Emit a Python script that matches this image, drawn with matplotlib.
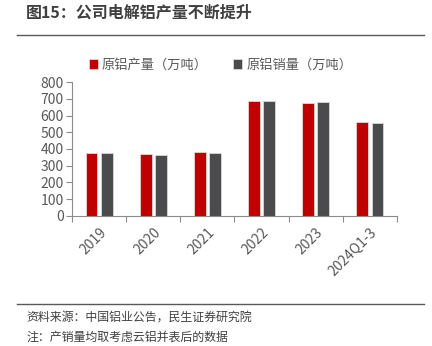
import numpy as np
import matplotlib
matplotlib.use('Agg')
import matplotlib.pyplot as plt
from matplotlib.lines import Line2D

plt.rcParams['font.family'] = ['Noto Sans CJK SC', 'DejaVu Sans']

years = ['2019', '2020', '2021', '2022', '2023', '2024Q1-3']
output = [378, 368, 384, 688, 678, 562]
sales = [375, 366, 376, 686, 680, 558]

red = '#C00000'
grey = '#4B4B4D'
axis_c = '#8C8C8C'
text_c = '#595959'

fig = plt.figure(figsize=(4.32, 3.46), dpi=100)
ax = fig.add_axes([72/432, 1-215.7/346, 325/432, 133.4/346])

x = np.arange(len(years))
w = 0.22
ax.bar(x - 0.14, output, w, color=red, edgecolor='#F2D0D0', linewidth=0.6, label='原铝产量（万吨）')
ax.bar(x + 0.14, sales, w, color=grey, edgecolor='#D9D9D9', linewidth=0.6, label='原铝销量（万吨）')

ax.set_xlim(-0.5, len(years) - 0.5)
ax.set_ylim(0, 800)
ax.set_yticks(range(0, 801, 100))
ax.set_xticks(np.arange(-0.5, len(years), 1.0))
ax.set_xticklabels([])
ax.set_xticks(x, minor=True)
ax.set_xticklabels(years, minor=True, rotation=45, ha='right', rotation_mode='anchor',
                   fontsize=10, color=text_c)
ax.tick_params(axis='x', which='minor', length=0, pad=7)
ax.tick_params(axis='x', which='major', length=4, color=axis_c, width=0.8)
ax.tick_params(axis='y', length=4, color=axis_c, width=0.8, labelsize=10, labelcolor=text_c, pad=2)
for s in ['top', 'right']:
    ax.spines[s].set_visible(False)
for s in ['left', 'bottom']:
    ax.spines[s].set_color(axis_c)
    ax.spines[s].set_linewidth(0.8)

ax.legend(loc='lower center', bbox_to_anchor=(0.457, 1.04), ncol=2, frameon=False,
          fontsize=9.5, labelcolor=text_c, handlelength=0.7, handleheight=0.7,
          handletextpad=0.3, columnspacing=1.9, borderaxespad=0)

fig.text(26/432, 1-13/346, '图15：公司电解铝产量不断提升', fontsize=11.5, fontweight='bold',
         color='#404040', va='center', ha='left')
fig.add_artist(Line2D([17/432, 424/432], [1-35/346, 1-35/346], color='#595959', linewidth=1))
fig.add_artist(Line2D([17/432, 424/432], [1-304/346, 1-304/346], color='#595959', linewidth=1))
fig.text(26/432, 1-317/346, '资料来源：中国铝业公告，民生证券研究院', fontsize=8.6, color='#404040',
         va='center', ha='left')
fig.text(26/432, 1-337/346, '注：产销量均取考虑云铝并表后的数据', fontsize=8.6, color='#404040',
         va='center', ha='left')

fig.savefig('out.png', dpi=100)
